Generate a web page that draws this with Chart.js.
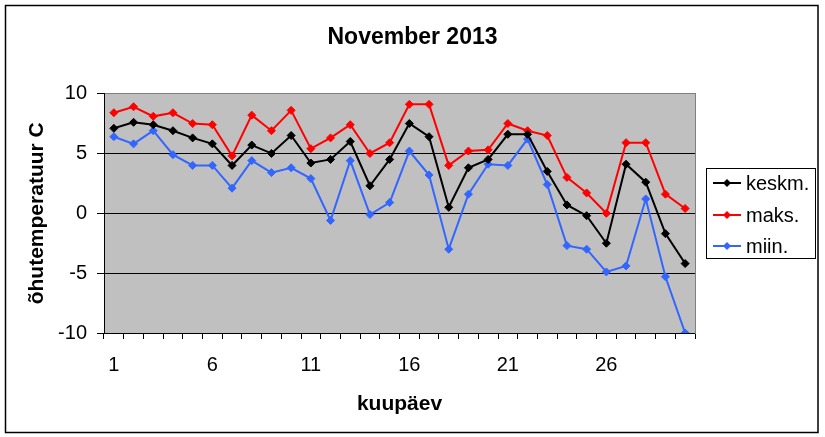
<!DOCTYPE html>
<html>
<head>
<meta charset="utf-8">
<script src="https://cdn.jsdelivr.net/npm/chart.js@4/dist/chart.umd.min.js"></script>
<style>
  body { margin: 0; background: #fff; }
  canvas { display: block; }
</style>
</head>
<body>
<canvas id="chart" width="825" height="437"></canvas>
<script>
// Data: November 2013 air temperature
const days = ['1','2','3','4','5','6','7','8','9','10','11','12','13','14','15',
  '16','17','18','19','20','21','22','23','24','25','26','27','28','29','30'];
const keskm = [7.1, 7.6, 7.4, 6.9, 6.3, 5.8, 4.0, 5.7, 5.0, 6.5, 4.2, 4.5, 6.0, 2.3, 4.5,
  7.5, 6.4, 0.5, 3.8, 4.5, 6.6, 6.6, 3.5, 0.7, -0.2, -2.5, 4.1, 2.6, -1.7, -4.2];
const maks = [8.4, 8.9, 8.1, 8.4, 7.5, 7.4, 4.8, 8.2, 6.9, 8.6, 5.4, 6.3, 7.4, 5.0, 5.9,
  9.1, 9.1, 4.0, 5.2, 5.3, 7.5, 6.9, 6.5, 3.0, 1.7, 0.0, 5.9, 5.9, 1.6, 0.4];
const miin = [6.4, 5.8, 6.9, 4.9, 4.0, 4.0, 2.1, 4.4, 3.4, 3.8, 2.9, -0.6, 4.4, -0.1, 0.9,
  5.2, 3.2, -3.0, 1.6, 4.1, 4.0, 6.2, 2.4, -2.7, -3.0, -4.9, -4.4, 1.2, -5.3, -10.0];
const seriesNames = ['keskm.', 'maks.', 'miin.'];
const seriesColors = ['#000000', '#ff0000', '#3366ff'];

const FONT = 'Arial, "Liberation Sans", sans-serif';

function makeSet(label, data, color) {
  return {
    label: label,
    data: data,
    borderColor: color,
    backgroundColor: color,
    borderWidth: 2,
    pointStyle: 'rectRot',
    pointRadius: 4,
    pointBorderWidth: 1,
    tension: 0
  };
}

// background, outer frame and boxed legend
const framePlugin = {
  id: 'frame',
  beforeDraw(chart) {
    const { ctx, chartArea: a } = chart;
    ctx.save();
    ctx.fillStyle = '#fff';
    ctx.fillRect(0, 0, chart.width, chart.height);
    ctx.fillStyle = '#c0c0c0';
    ctx.fillRect(a.left, a.top, a.right - a.left, a.bottom - a.top);
    ctx.restore();
  },
  afterDraw(chart) {
    const { ctx } = chart;
    ctx.save();
    ctx.strokeStyle = '#000';
    ctx.lineWidth = 1.5;
    ctx.strokeRect(5.5, 5.5, 812.5, 427);

    // legend box
    ctx.lineWidth = 1;
    ctx.strokeRect(706.5, 168.5, 109, 90);
    const rows = [183, 215, 246];
    ctx.font = '20px ' + FONT;
    ctx.textBaseline = 'middle';
    ctx.textAlign = 'left';
    chart.data.datasets.forEach((ds, i) => {
      const y = rows[i];
      ctx.strokeStyle = ds.borderColor;
      ctx.fillStyle = ds.borderColor;
      ctx.lineWidth = 2;
      ctx.beginPath();
      ctx.moveTo(713, y);
      ctx.lineTo(741, y);
      ctx.stroke();
      ctx.beginPath();
      ctx.moveTo(727, y - 4);
      ctx.lineTo(731, y);
      ctx.lineTo(727, y + 4);
      ctx.lineTo(723, y);
      ctx.closePath();
      ctx.fill();
      ctx.fillStyle = '#000';
      ctx.fillText(ds.label, 746, y + 1);
    });
    ctx.restore();
  }
};

new Chart(document.getElementById('chart'), {
  type: 'line',
  data: {
    labels: days,
    datasets: [
      makeSet(seriesNames[0], keskm, seriesColors[0]),
      makeSet(seriesNames[1], maks, seriesColors[1]),
      makeSet(seriesNames[2], miin, seriesColors[2])
    ]
  },
  options: {
    responsive: false,
    animation: false,
    devicePixelRatio: 1,
    layout: { padding: 0 },
    plugins: {
      legend: { display: false },
      tooltip: { enabled: false },
      title: {
        display: true,
        text: 'November 2013',
        color: '#000',
        font: { family: FONT, size: 23, weight: 'bold' },
        padding: { top: 24, bottom: 42 }
      }
    },
    scales: {
      x: {
        offset: true,
        grid: {
          offset: true,
          drawOnChartArea: false,
          drawTicks: true,
          tickLength: 6,
          tickWidth: 1,
          tickColor: '#000',
          color: '#000'
        },
        border: { color: '#000', width: 1 },
        ticks: {
          autoSkip: false,
          maxRotation: 0,
          padding: 14,
          color: '#000',
          font: { family: FONT, size: 20 },
          callback: (v, i) => (i % 5 === 0 ? days[i] : '')
        },
        title: {
          display: true,
          text: 'kuupäev',
          color: '#000',
          font: { family: FONT, size: 21, weight: 'bold' },
          padding: { top: 0, bottom: 20 }
        },
        afterFit(scale) { scale.height = 104; }
      },
      y: {
        min: -10,
        max: 10,
        grid: {
          color: (c) => (c.tick && c.tick.value === 10 ? '#808080' : '#000'),
          tickColor: '#000',
          tickLength: 7,
          lineWidth: 1
        },
        border: { color: '#000', width: 1 },
        ticks: {
          stepSize: 5,
          padding: 10,
          color: '#000',
          font: { family: FONT, size: 20 }
        },
        title: {
          display: true,
          text: 'õhutemperatuur C',
          color: '#000',
          font: { family: FONT, size: 21, weight: 'bold' },
          padding: { top: 25, bottom: 0 }
        },
        afterFit(scale) { scale.width = 104; }
      },
      y2: {
        position: 'right',
        min: -10,
        max: 10,
        grid: { drawOnChartArea: false, drawTicks: false },
        border: { color: '#808080', width: 1 },
        ticks: { display: false },
        afterFit(scale) { scale.width = 130; }
      }
    }
  },
  plugins: [framePlugin]
});
</script>
</body>
</html>
